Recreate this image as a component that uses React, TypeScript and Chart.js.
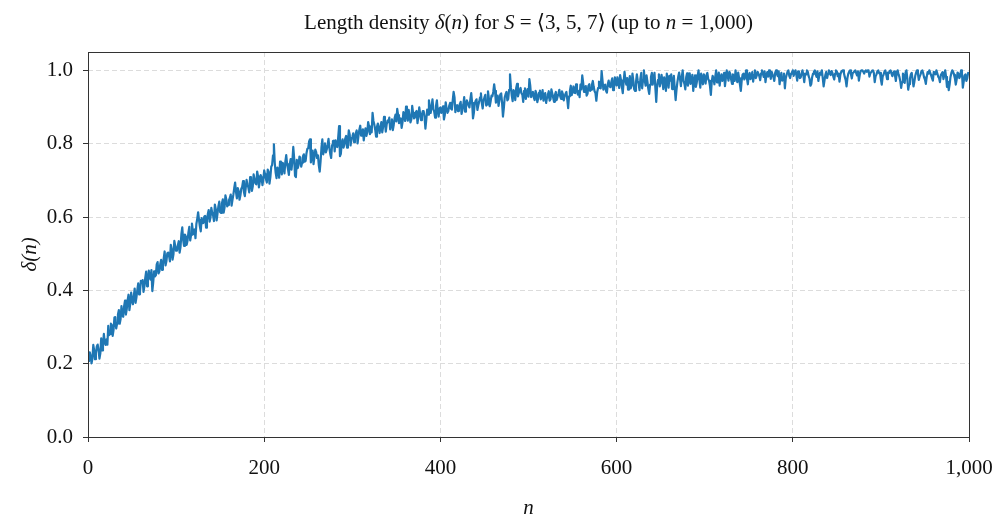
import React, { useEffect, useRef } from 'react';
import { Chart, registerables } from 'chart.js';

Chart.register(...registerables);

// n values: nStart, nStart + nStep, ... (n = 1..1000)
const nStart = 1;
const nStep = 1;

// delta(n), n = 1..100
const delta001 = [
  0.205, 0.231, 0.221, 0.201, 0.213, 0.251, 0.236, 0.212, 0.229, 0.247,
  0.252, 0.236, 0.214, 0.228, 0.269, 0.236, 0.249, 0.281, 0.258, 0.251,
  0.266, 0.252, 0.303, 0.278, 0.281, 0.309, 0.305, 0.276, 0.292, 0.326,
  0.327, 0.296, 0.309, 0.334, 0.346, 0.309, 0.322, 0.357, 0.331, 0.328,
  0.357, 0.372, 0.334, 0.349, 0.373, 0.388, 0.346, 0.364, 0.394, 0.371,
  0.362, 0.384, 0.405, 0.366, 0.381, 0.401, 0.419, 0.389, 0.396, 0.426,
  0.421, 0.428, 0.396, 0.411, 0.434, 0.451, 0.411, 0.426, 0.454, 0.437,
  0.429, 0.455, 0.398, 0.421, 0.452, 0.438, 0.441, 0.471, 0.477, 0.446,
  0.451, 0.471, 0.483, 0.456, 0.469, 0.488, 0.506, 0.468, 0.479, 0.501,
  0.503, 0.494, 0.479, 0.524, 0.512, 0.484, 0.498, 0.535, 0.521, 0.508,
];

// delta(n), n = 101..200
const delta101 = [
  0.509, 0.523, 0.534, 0.503, 0.518, 0.553, 0.572, 0.538, 0.521, 0.552,
  0.547, 0.524, 0.536, 0.558, 0.573, 0.536, 0.551, 0.582, 0.562, 0.553,
  0.566, 0.542, 0.581, 0.595, 0.613, 0.592, 0.574, 0.561, 0.597, 0.583,
  0.584, 0.601, 0.603, 0.571, 0.591, 0.608, 0.619, 0.587, 0.598, 0.625,
  0.611, 0.604, 0.589, 0.634, 0.622, 0.591, 0.609, 0.629, 0.642, 0.613,
  0.611, 0.637, 0.648, 0.612, 0.626, 0.659, 0.648, 0.629, 0.633, 0.646,
  0.652, 0.661, 0.631, 0.647, 0.661, 0.679, 0.694, 0.668, 0.651, 0.679,
  0.671, 0.647, 0.659, 0.677, 0.682, 0.698, 0.668, 0.657, 0.679, 0.701,
  0.688, 0.681, 0.667, 0.709, 0.697, 0.671, 0.683, 0.716, 0.704, 0.692,
  0.689, 0.724, 0.711, 0.681, 0.696, 0.714, 0.708, 0.687, 0.702, 0.727,
];

// delta(n), n = 201..300
const delta201 = [
  0.716, 0.703, 0.694, 0.729, 0.723, 0.691, 0.709, 0.737, 0.742, 0.768,
  0.798, 0.747, 0.721, 0.706, 0.735, 0.728, 0.707, 0.751, 0.741, 0.716,
  0.748, 0.739, 0.719, 0.751, 0.769, 0.744, 0.731, 0.715, 0.744, 0.758,
  0.729, 0.752, 0.791, 0.761, 0.712, 0.709, 0.756, 0.733, 0.741, 0.765,
  0.762, 0.737, 0.748, 0.766, 0.771, 0.751, 0.753, 0.774, 0.786, 0.788,
  0.806, 0.812, 0.749, 0.769, 0.781, 0.744, 0.763, 0.784, 0.777, 0.761,
  0.768, 0.741, 0.724, 0.752, 0.789, 0.812, 0.771, 0.783, 0.801, 0.776,
  0.784, 0.797, 0.813, 0.788, 0.772, 0.761, 0.796, 0.807, 0.808, 0.779,
  0.809, 0.794, 0.791, 0.817, 0.848, 0.766, 0.772, 0.803, 0.812, 0.789,
  0.798, 0.814, 0.821, 0.789, 0.806, 0.836, 0.826, 0.795, 0.812, 0.818,
];

// delta(n), n = 301..400
const delta301 = [
  0.828, 0.804, 0.814, 0.829, 0.836, 0.801, 0.821, 0.838, 0.849, 0.822,
  0.827, 0.839, 0.809, 0.828, 0.842, 0.821, 0.831, 0.859, 0.847, 0.826,
  0.844, 0.831, 0.884, 0.862, 0.852, 0.838, 0.819, 0.846, 0.855, 0.841,
  0.829, 0.847, 0.859, 0.831, 0.846, 0.873, 0.861, 0.833, 0.852, 0.863,
  0.859, 0.871, 0.839, 0.852, 0.866, 0.837, 0.851, 0.869, 0.879, 0.861,
  0.895, 0.878, 0.856, 0.867, 0.869, 0.843, 0.858, 0.886, 0.874, 0.862,
  0.901, 0.879, 0.863, 0.892, 0.877, 0.858, 0.866, 0.903, 0.884, 0.869,
  0.871, 0.886, 0.889, 0.856, 0.874, 0.899, 0.882, 0.864, 0.877, 0.889,
  0.889, 0.872, 0.841, 0.866, 0.893, 0.879, 0.918, 0.897, 0.884, 0.902,
  0.921, 0.894, 0.887, 0.871, 0.903, 0.918, 0.889, 0.874, 0.896, 0.899,
];

// delta(n), n = 401..500
const delta401 = [
  0.884, 0.891, 0.902, 0.866, 0.878, 0.913, 0.897, 0.884, 0.889, 0.903,
  0.911, 0.896, 0.893, 0.918, 0.941, 0.927, 0.886, 0.901, 0.905, 0.889,
  0.897, 0.908, 0.914, 0.881, 0.892, 0.906, 0.927, 0.887, 0.903, 0.918,
  0.912, 0.903, 0.899, 0.921, 0.938, 0.911, 0.869, 0.884, 0.909, 0.917,
  0.921, 0.892, 0.904, 0.914, 0.926, 0.937, 0.911, 0.896, 0.918, 0.926,
  0.933, 0.904, 0.907, 0.943, 0.924, 0.902, 0.915, 0.931, 0.929, 0.941,
  0.962, 0.944, 0.912, 0.921, 0.931, 0.903, 0.918, 0.934, 0.937, 0.912,
  0.874, 0.897, 0.926, 0.935, 0.941, 0.918, 0.922, 0.947, 0.989, 0.954,
  0.931, 0.916, 0.946, 0.941, 0.919, 0.951, 0.963, 0.929, 0.938, 0.946,
  0.952, 0.937, 0.934, 0.914, 0.944, 0.951, 0.922, 0.939, 0.949, 0.928,
];

// delta(n), n = 501..600
const delta501 = [
  0.976, 0.958, 0.927, 0.938, 0.941, 0.926, 0.919, 0.944, 0.936, 0.913,
  0.924, 0.939, 0.945, 0.921, 0.931, 0.946, 0.917, 0.929, 0.938, 0.911,
  0.926, 0.934, 0.943, 0.917, 0.921, 0.948, 0.937, 0.925, 0.914, 0.933,
  0.941, 0.919, 0.928, 0.936, 0.947, 0.929, 0.922, 0.943, 0.935, 0.918,
  0.929, 0.936, 0.941, 0.921, 0.897, 0.929, 0.944, 0.958, 0.932, 0.941,
  0.956, 0.939, 0.938, 0.962, 0.951, 0.934, 0.943, 0.927, 0.961, 0.948,
  0.986, 0.967, 0.941, 0.952, 0.957, 0.931, 0.936, 0.958, 0.962, 0.944,
  0.947, 0.961, 0.971, 0.955, 0.943, 0.938, 0.917, 0.941, 0.952, 0.969,
  0.966, 0.951, 0.998, 0.973, 0.947, 0.958, 0.961, 0.944, 0.939, 0.962,
  0.972, 0.957, 0.954, 0.968, 0.978, 0.946, 0.949, 0.981, 0.968, 0.959,
];

// delta(n), n = 601..700
const delta601 = [
  0.981, 0.964, 0.952, 0.987, 0.973, 0.955, 0.938, 0.969, 0.996, 0.974,
  0.961, 0.979, 0.947, 0.966, 0.984, 0.951, 0.958, 0.991, 0.972, 0.948,
  0.944, 0.968, 0.989, 0.971, 0.963, 0.946, 0.977, 0.993, 0.951, 0.974,
  1.000, 0.971, 0.958, 0.986, 0.969, 0.949, 0.936, 0.961, 0.982, 0.993,
  0.961, 0.978, 0.993, 0.952, 0.914, 0.958, 0.974, 0.989, 0.956, 0.967,
  0.988, 0.972, 0.949, 0.981, 0.967, 0.944, 0.991, 0.976, 0.953, 0.985,
  0.972, 0.989, 0.949, 0.966, 0.985, 0.951, 0.919, 0.947, 0.968, 0.983,
  0.994, 0.976, 0.957, 0.982, 1.000, 0.971, 0.963, 0.948, 0.981, 0.992,
  0.958, 0.977, 0.992, 0.963, 0.971, 0.988, 0.944, 0.969, 0.986, 0.955,
  0.967, 0.984, 1.000, 0.974, 0.953, 0.991, 0.978, 0.962, 0.989, 0.979,
];

// delta(n), n = 701..800
const delta701 = [
  0.964, 0.987, 0.993, 0.976, 0.971, 0.957, 0.933, 0.969, 0.985, 0.978,
  0.962, 0.983, 1.000, 0.967, 0.976, 0.994, 0.958, 0.979, 0.989, 0.971,
  0.981, 0.993, 0.957, 0.978, 1.000, 0.986, 0.972, 0.996, 0.991, 0.975,
  0.963, 0.989, 0.984, 0.971, 1.000, 0.982, 0.968, 0.994, 0.979, 0.961,
  0.944, 0.972, 0.988, 0.991, 0.975, 0.983, 1.000, 0.977, 0.962, 0.987,
  0.993, 0.976, 0.981, 0.995, 0.969, 0.988, 1.000, 0.979, 0.985, 0.996,
  0.991, 0.984, 0.973, 0.992, 1.000, 0.991, 0.982, 0.997, 0.968, 0.986,
  0.995, 0.983, 1.000, 0.991, 0.977, 0.996, 0.989, 0.981, 0.971, 0.993,
  1.000, 0.989, 0.984, 0.997, 0.962, 0.981, 0.993, 0.972, 0.976, 0.991,
  0.951, 0.978, 0.988, 0.996, 1.000, 0.985, 0.979, 0.991, 0.994, 1.000,
];

// delta(n), n = 801..900
const delta801 = [
  0.985, 0.994, 1.000, 0.988, 0.972, 0.997, 0.993, 0.979, 0.981, 0.992,
  1.000, 0.987, 0.968, 0.991, 0.989, 1.000, 0.996, 0.984, 0.977, 0.958,
  0.963, 0.982, 0.991, 0.996, 1.000, 0.989, 0.982, 0.997, 0.971, 0.985,
  0.994, 0.988, 1.000, 0.979, 0.956, 0.973, 0.988, 0.996, 0.979, 0.991,
  1.000, 0.992, 0.987, 0.998, 0.993, 0.983, 0.975, 0.991, 1.000, 0.997,
  0.984, 0.991, 0.969, 0.988, 0.996, 0.999, 1.000, 0.993, 0.982, 0.974,
  0.956, 0.979, 0.991, 0.996, 1.000, 0.989, 0.978, 0.993, 0.994, 0.998,
  1.000, 0.992, 0.986, 0.997, 0.972, 0.988, 0.998, 1.000, 1.000, 0.996,
  0.991, 0.998, 1.000, 0.996, 1.000, 1.000, 0.983, 0.992, 0.995, 0.999,
  1.000, 0.993, 0.968, 0.984, 0.989, 0.997, 1.000, 0.992, 0.993, 0.975,
];

// delta(n), n = 901..1000
const delta901 = [
  0.961, 0.983, 0.988, 0.996, 1.000, 0.989, 0.976, 0.994, 0.992, 0.998,
  1.000, 0.991, 0.984, 0.993, 0.997, 0.986, 0.971, 0.994, 1.000, 0.989,
  0.982, 0.971, 0.952, 0.968, 0.991, 0.983, 0.966, 0.994, 1.000, 0.976,
  0.947, 0.962, 0.978, 0.989, 0.993, 0.974, 0.956, 0.969, 0.985, 0.994,
  1.000, 0.991, 0.974, 0.983, 0.989, 0.997, 1.000, 0.992, 0.981, 0.975,
  0.963, 0.982, 0.995, 0.991, 1.000, 0.993, 0.986, 0.979, 0.972, 0.996,
  0.994, 0.989, 1.000, 0.992, 0.983, 0.979, 0.968, 0.987, 0.991, 0.995,
  0.976, 0.988, 1.000, 0.982, 0.955, 0.969, 0.946, 0.961, 0.982, 0.993,
  1.000, 0.996, 0.988, 0.978, 0.961, 0.975, 0.994, 0.991, 0.979, 0.984,
  1.000, 0.992, 0.953, 0.969, 0.986, 0.989, 0.971, 0.978, 0.993, 0.991,
];

const xTickValues = [0, 200, 400, 600, 800, 1000];
const yTickValues = [0, 0.2, 0.4, 0.6, 0.8, 1.0];

const SERIF = "'Liberation Serif', 'Times New Roman', 'DejaVu Serif', serif";
const FONT_SIZE = 21;
const TEXT_COLOR = '#111111';

const titleSegments = [
  { text: 'Length density ', italic: false },
  { text: 'δ', italic: true },
  { text: '(', italic: false },
  { text: 'n', italic: true },
  { text: ')', italic: false },
  { text: ' for ', italic: false },
  { text: 'S', italic: true },
  { text: ' = ⟨3, 5, 7⟩ (up to ', italic: false },
  { text: 'n', italic: true },
  { text: ' = 1,000)', italic: false },
];

const xAxisLabel = 'n';
const yAxisLabel = 'δ(n)';

const decorPlugin = {
  id: 'decor',
  afterDraw(chart: any) {
    const { ctx, chartArea: a } = chart;
    ctx.save();
    ctx.setLineDash([]);
    ctx.strokeStyle = '#333333';
    ctx.lineWidth = 1;
    const l = Math.round(a.left - 0.5) + 0.5;
    const r = Math.round(a.right - 0.5) + 0.5;
    const t = Math.round(a.top - 0.5) + 0.5;
    const b = Math.round(a.bottom - 0.5) + 0.5;
    ctx.strokeRect(l, t, r - l, b - t);

    ctx.fillStyle = TEXT_COLOR;
    ctx.textBaseline = 'alphabetic';
    ctx.textAlign = 'left';
    const fontFor = (it: boolean) => `${it ? 'italic ' : ''}${FONT_SIZE}px ${SERIF}`;
    let total = 0;
    const widths = titleSegments.map((s) => {
      ctx.font = fontFor(s.italic);
      const w = ctx.measureText(s.text).width;
      total += w;
      return w;
    });
    let x = (a.left + a.right) / 2 - total / 2;
    titleSegments.forEach((s, i) => {
      ctx.font = fontFor(s.italic);
      ctx.fillText(s.text, x, 29);
      x += widths[i];
    });

    ctx.font = `italic ${FONT_SIZE}px ${SERIF}`;
    ctx.textAlign = 'center';
    ctx.fillText(xAxisLabel, (a.left + a.right) / 2, 514);

    ctx.translate(36, (a.top + a.bottom) / 2 + 10);
    ctx.rotate(-Math.PI / 2);
    ctx.fillText(yAxisLabel, 0, 0);
    ctx.restore();
  },
};

export default function App() {
  const ref = useRef<HTMLCanvasElement>(null);

  useEffect(() => {
    const canvas = ref.current;
    if (!canvas) return;
    const values = [
      ...delta001, ...delta101, ...delta201, ...delta301, ...delta401,
      ...delta501, ...delta601, ...delta701, ...delta801, ...delta901,
    ];
    const points = values.map((v, i) => ({ x: nStart + i * nStep, y: v }));

    const gridCommon = {
      color: '#dcdcdc',
      lineWidth: 1,
      drawTicks: true,
      tickLength: 5,
      tickColor: '#333333',
      tickWidth: 1,
      tickBorderDash: [],
    };

    const chart = new Chart(canvas, {
      type: 'line',
      data: {
        datasets: [
          {
            data: points,
            borderColor: '#1f77b4',
            borderWidth: 2.2,
            pointRadius: 0,
            tension: 0,
            fill: false,
            borderJoinStyle: 'round',
          },
        ],
      },
      options: {
        animation: false,
        responsive: false,
        events: [],
        layout: { padding: { left: 0, right: 26, top: 52, bottom: 0 } },
        plugins: {
          legend: { display: false },
          tooltip: { enabled: false },
          title: { display: false },
        },
        scales: {
          x: {
            type: 'linear',
            min: 0,
            max: 1000,
            afterFit: (s: any) => {
              s.height = 78;
              s.paddingLeft = 0;
              s.paddingRight = 0;
            },
            afterBuildTicks: (s: any) => {
              s.ticks = xTickValues.map((value) => ({ value }));
            },
            ticks: {
              autoSkip: false,
              maxRotation: 0,
              padding: 14,
              color: TEXT_COLOR,
              font: { family: SERIF, size: FONT_SIZE },
              callback: (v: any) => Number(v).toLocaleString('en-US'),
            },
            grid: gridCommon,
            border: { display: false, dash: [5, 3] },
          },
          y: {
            type: 'linear',
            min: 0,
            max: 1.05,
            afterFit: (s: any) => {
              s.width = 88;
              s.paddingTop = 0;
              s.paddingBottom = 0;
            },
            afterBuildTicks: (s: any) => {
              s.ticks = yTickValues.map((value) => ({ value }));
            },
            ticks: {
              autoSkip: false,
              padding: 10,
              color: TEXT_COLOR,
              font: { family: SERIF, size: FONT_SIZE },
              callback: (v: any) => Number(v).toFixed(1),
            },
            grid: gridCommon,
            border: { display: false, dash: [5, 3] },
          },
        },
      } as any,
      plugins: [decorPlugin],
    });

    return () => chart.destroy();
  }, []);

  return (
    <div style={{ position: 'fixed', left: 0, top: 0, width: 995, height: 515, background: '#ffffff' }}>
      <canvas ref={ref} width={995} height={515} style={{ width: 995, height: 515, display: 'block' }} />
    </div>
  );
}
